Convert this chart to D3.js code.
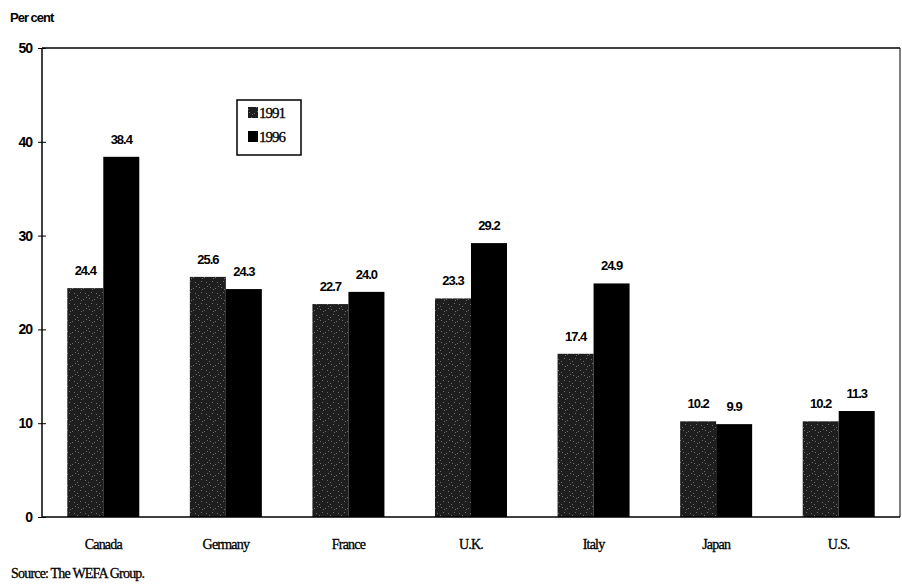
<!DOCTYPE html>
<html>
<head>
<meta charset="utf-8">
<script src="https://cdn.jsdelivr.net/npm/d3@7"></script>
<style>
  html, body { margin: 0; padding: 0; background: #fff; }
  svg { display: block; }
</style>
</head>
<body>
<svg id="chart" width="902" height="585"></svg>
<script>
const categories = ["Canada", "Germany", "France", "U.K.", "Italy", "Japan", "U.S."];
const seriesNames = ["1991", "1996"];
const values1991 = [24.4, 25.6, 22.7, 23.3, 17.4, 10.2, 10.2];
const values1996 = [38.4, 24.3, 24.0, 29.2, 24.9, 9.9, 11.3];
const yTicks = [0, 10, 20, 30, 40, 50];

const svg = d3.select("#chart");
const margin = { left: 42, right: 2, top: 48, bottom: 68 };
const W = 902, H = 585;

// patterns
const defs = svg.append("defs");
const pat = defs.append("pattern")
  .attr("id", "speckle").attr("patternUnits", "userSpaceOnUse")
  .attr("width", 11).attr("height", 11);
pat.append("rect").attr("width", 11).attr("height", 11).attr("fill", "#1e1e1e");
[[1,1],[6,2],[3,6],[8,7],[0,9],[9,0],[4,3]].forEach(([px,py]) => {
  pat.append("rect").attr("x", px).attr("y", py).attr("width", 1).attr("height", 1).attr("fill", "#6e6e6e");
});

const x = d3.scaleBand().domain(categories).range([margin.left, W - margin.right]).paddingInner(0).paddingOuter(0);
const barW = 36;
const y = d3.scaleLinear().domain([0, 50]).range([H - margin.bottom, margin.top]);

// frame: top & right lines
svg.append("line").attr("x1", margin.left).attr("x2", W - margin.right)
  .attr("y1", y(50)).attr("y2", y(50)).attr("stroke", "#000").attr("stroke-width", 1.5);
svg.append("line").attr("x1", W - margin.right).attr("x2", W - margin.right)
  .attr("y1", y(50)).attr("y2", y(0)).attr("stroke", "#000").attr("stroke-width", 1);

// bars
const data = categories.map((c, i) => ({ c, v: [values1991[i], values1996[i]] }));
const fills = ["url(#speckle)", "#000"];
const g = svg.append("g");
data.forEach(d => {
  const cx = x(d.c) + x.bandwidth() / 2;
  d.v.forEach((v, j) => {
    const bx = cx - barW + j * barW;
    g.append("rect").attr("x", bx).attr("width", barW)
      .attr("y", y(v)).attr("height", y(0) - y(v)).attr("fill", fills[j]);
    g.append("text").attr("x", bx + barW / 2).attr("y", y(v) - 13)
      .attr("text-anchor", "middle")
      .attr("font-family", "Liberation Sans, Arial, sans-serif")
      .attr("font-weight", "bold").attr("font-size", 13)
      .attr("letter-spacing", -1)
      .text(v.toFixed(1));
  });
});

// y axis
const yAxis = d3.axisLeft(y).tickValues(yTicks).tickSize(4).tickFormat(d3.format("d"));
const ya = svg.append("g").attr("transform", `translate(${margin.left},0)`).call(yAxis);
ya.select(".domain").attr("stroke-width", 1.5).attr("d", `M0,${y(0)}V${y(50)}`);
ya.selectAll(".tick line").attr("x2", 4).attr("x1", -4);
ya.selectAll(".tick text").attr("x", -10)
  .attr("font-family", "Liberation Sans, Arial, sans-serif")
  .attr("font-weight", "bold").attr("font-size", 14).attr("letter-spacing", -1).attr("fill", "#000");

// x axis
const xAxis = d3.axisBottom(x).tickSize(0);
const xa = svg.append("g").attr("transform", `translate(0,${y(0)})`).call(xAxis);
xa.select(".domain").attr("stroke-width", 1.5).attr("d", `M${margin.left},0H${W - margin.right}`);
xa.selectAll(".tick text").attr("y", 22)
  .attr("font-family", "Liberation Serif, Times New Roman, serif")
  .attr("font-size", 14).attr("letter-spacing", -0.8).attr("fill", "#000")
  .attr("stroke", "#000").attr("stroke-width", 0.3);

// y label
svg.append("text").attr("x", 10).attr("y", 22)
  .attr("font-family", "Liberation Sans, Arial, sans-serif")
  .attr("font-weight", "bold").attr("font-size", 13).attr("letter-spacing", -1)
  .text("Per cent");

// source
svg.append("text").attr("x", 11).attr("y", 578)
  .attr("font-family", "Liberation Serif, Times New Roman, serif")
  .attr("font-size", 14).attr("letter-spacing", -0.8)
  .attr("stroke", "#000").attr("stroke-width", 0.3)
  .text("Source: The WEFA Group.");

// legend
const lg = svg.append("g").attr("transform", "translate(237,100)");
lg.append("rect").attr("width", 64).attr("height", 55).attr("fill", "#fff")
  .attr("stroke", "#000").attr("stroke-width", 1.5);
seriesNames.forEach((s, i) => {
  const ly = 18 + i * 24;
  lg.append("rect").attr("x", 11).attr("y", ly - 11).attr("width", 10).attr("height", 11)
    .attr("fill", i === 0 ? "url(#speckle)" : "#000");
  lg.append("text").attr("x", 22).attr("y", ly)
    .attr("font-family", "Liberation Serif, Times New Roman, serif")
    .attr("font-size", 15).attr("letter-spacing", -1)
    .attr("stroke", "#000").attr("stroke-width", 0.3)
    .text(s);
});
</script>
</body>
</html>
